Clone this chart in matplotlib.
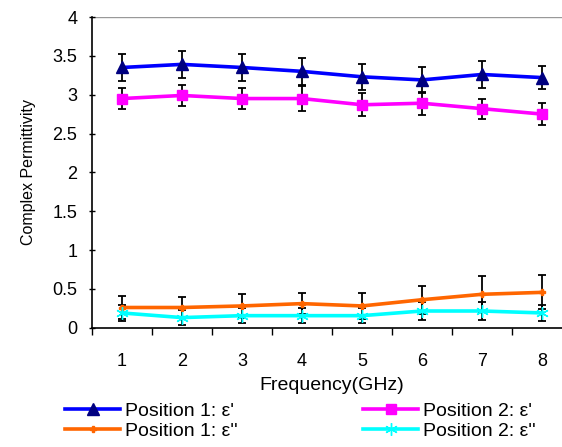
import matplotlib
matplotlib.use("Agg")
import matplotlib.pyplot as plt

plt.rcParams['font.family'] = ['Liberation Sans', 'DejaVu Sans']

freq = [1, 2, 3, 4, 5, 6, 7, 8]
p1_real = [3.35, 3.39, 3.35, 3.30, 3.23, 3.19, 3.26, 3.22]
p1_real_err = [0.17, 0.17, 0.17, 0.17, 0.17, 0.17, 0.17, 0.15]
p2_real = [2.95, 2.99, 2.95, 2.95, 2.87, 2.89, 2.82, 2.75]
p2_real_err = [0.14, 0.14, 0.14, 0.16, 0.15, 0.15, 0.13, 0.14]
p1_imag = [0.26, 0.26, 0.28, 0.31, 0.28, 0.36, 0.43, 0.455]
p1_imag_err = [0.15, 0.13, 0.15, 0.14, 0.17, 0.18, 0.23, 0.22]
p2_imag = [0.19, 0.13, 0.155, 0.155, 0.155, 0.215, 0.215, 0.19]
p2_imag_err = [0.10, 0.10, 0.10, 0.10, 0.10, 0.11, 0.11, 0.10]
yticks = [0, 0.5, 1, 1.5, 2, 2.5, 3, 3.5, 4]
ytick_labels = ['0', '0.5', '1', '1.5', '2', '2.5', '3', '3.5', '4']

fig = plt.figure(figsize=(5.62, 4.47), dpi=100)
ax = fig.add_axes([92/562, (447-327.7)/447, 480/562, (327.7-17)/447])

series = [
    (p1_real, p1_real_err, '#0000FF', '^', '#000080', 8, "Position 1: ε'"),
    (p1_imag, p1_imag_err, '#FF6600', 'P', '#FF6600', 5, "Position 1: ε''"),
    (p2_real, p2_real_err, '#FF00FF', 's', '#FF00FF', 6.5, "Position 2: ε'"),
    (p2_imag, p2_imag_err, '#00FFFF', (6, 2, 0), '#00FFFF', 9, "Position 2: ε''"),
]
handles = []
for vals, err, col, mk, mcol, ms, lab in series:
    ax.errorbar(freq, vals, yerr=err, fmt='none', ecolor='black', elinewidth=1.3,
                capsize=3, capthick=1.3, zorder=2)
    h, = ax.plot(freq, vals, color=col, lw=2.6, marker=mk, markersize=ms,
                 markerfacecolor=mcol, markeredgecolor=mcol, label=lab, zorder=3)
    handles.append(h)

ax.axhline(4, color='#999999', lw=1.0, zorder=1)
ax.set_xlim(0.5, 8.5)
ax.set_ylim(0, 4)
ax.set_yticks(yticks)
ax.set_yticklabels(ytick_labels)
ax.set_xticks(freq)
ax.set_xticks([x + 0.5 for x in [0] + freq[:-1]], minor=True)
ax.tick_params(axis='x', which='major', length=0, pad=18, labelsize=13)
ax.tick_params(axis='x', which='minor', length=5, direction='out', width=1)
ax.tick_params(axis='y', which='major', length=5, direction='inout', width=1, labelsize=13, pad=8)
for s in ['top', 'right']:
    ax.spines[s].set_visible(False)
ax.spines['left'].set_linewidth(1.2)
ax.spines['bottom'].set_linewidth(1.2)
ax.set_xlabel('Frequency(GHz)', fontsize=14, labelpad=5)
ax.set_ylabel('Complex Permittivity', fontsize=11.5, labelpad=12)

leg_kw = dict(frameon=False, fontsize=14, handlelength=2.85, handletextpad=0.25,
              labelspacing=0.12, borderpad=0, borderaxespad=0, loc='upper left')
leg1 = fig.legend(handles=handles[:2], bbox_to_anchor=(65/562, 1 - 402/447), **leg_kw)
leg2 = fig.legend(handles=handles[2:], bbox_to_anchor=(363/562, 1 - 402/447), **leg_kw)

fig.savefig('out.png', dpi=100)
